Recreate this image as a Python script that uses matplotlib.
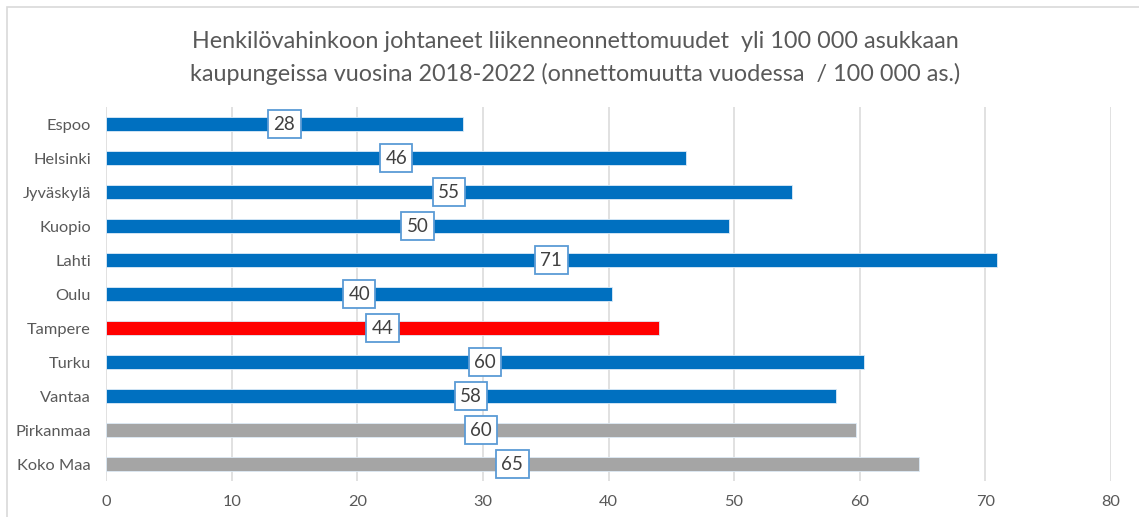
import matplotlib.pyplot as plt
from matplotlib.patches import Rectangle

# data
cities = ['Espoo', 'Helsinki', 'Jyväskylä', 'Kuopio', 'Lahti', 'Oulu', 'Tampere',
          'Turku', 'Vantaa', 'Pirkanmaa', 'Koko Maa']
values = [28.4, 46.2, 54.6, 49.6, 70.9, 40.3, 44.0, 60.3, 58.1, 59.7, 64.7]
bar_colors = ['#0070C0'] * 6 + ['#FF0000'] + ['#0070C0'] * 2 + ['#A5A5A5'] * 2
xticks = [0, 10, 20, 30, 40, 50, 60, 70, 80]

title = ('Henkilövahinkoon johtaneet liikenneonnettomuudet  yli 100 000 asukkaan\n'
         'kaupungeissa vuosina 2018-2022 (onnettomuutta vuodessa  / 100 000 as.)')

plt.rcParams['font.family'] = ['Lato', 'DejaVu Sans']
txt_col = '#595959'

fig = plt.figure(figsize=(11.39, 5.17), dpi=100)
ax = fig.add_axes([0.0931, 0.0696, 0.8823, 0.7234])

# outer chart frame
fig.patches.append(Rectangle((0.006, -0.02), 1.0, 1.006, transform=fig.transFigure,
                             fill=False, edgecolor='#D9D9D9', linewidth=1.2))

ypos = list(range(len(cities)))
ax.barh(ypos, values, height=0.42, color=bar_colors, edgecolor='#DDEBF7',
        linewidth=0.6, zorder=3)

# value labels in boxes at bar centre
for y, v in zip(ypos, values):
    ax.text(v / 2, y, f'{v:.0f}', ha='center', va='center', fontsize=13.5,
            color='#404040', zorder=4,
            bbox=dict(boxstyle='square,pad=0.28', facecolor='white',
                      edgecolor='#5B9BD5', linewidth=1.3))

ax.set_ylim(len(cities) - 0.5, -0.5)
ax.set_xlim(0, 80)
ax.set_xticks(xticks)
ax.set_yticks(ypos)
ax.set_yticklabels(cities)
ax.grid(axis='x', color='#D9D9D9', linewidth=1.1, zorder=0)
for s in ax.spines.values():
    s.set_visible(False)
ax.tick_params(axis='both', length=0, colors=txt_col, labelsize=11.8)
ax.tick_params(axis='x', pad=10)
ax.tick_params(axis='y', pad=11)

fig.text(0.505, 0.888, title, ha='center', va='center', fontsize=16.8,
         color=txt_col, linespacing=1.58)

plt.savefig('out.png', dpi=100)
